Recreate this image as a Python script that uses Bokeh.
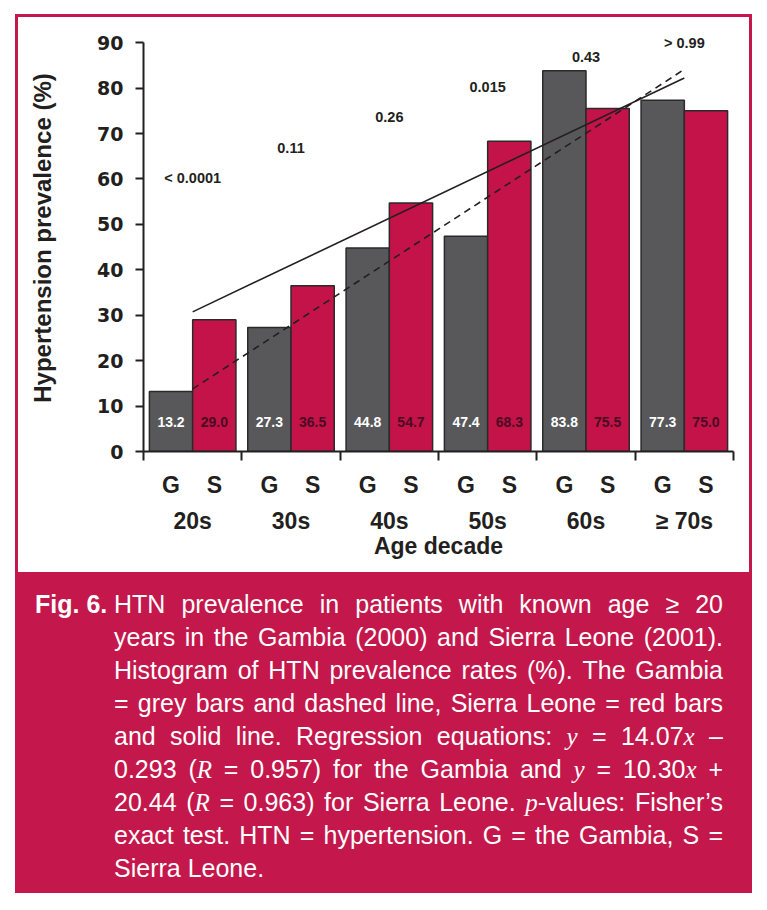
from bokeh.plotting import figure
from bokeh.models import FixedTicker, LinearAxis, Range1d, Div
from bokeh.layouts import column, row
from bokeh.core.properties import value
from bokeh.embed import file_html
from bokeh.resources import INLINE

# ---------------- data ----------------
age_groups = ["20s", "30s", "40s", "50s", "60s", "≥ 70s"]
countries = ["G", "S"]
gambia = [13.2, 27.3, 44.8, 47.4, 83.8, 77.3]
sierra = [29.0, 36.5, 54.7, 68.3, 75.5, 75.0]
p_labels = ["< 0.0001", "0.11", "0.26", "0.015", "0.43", "> 0.99"]
p_label_heights = [60.1, 66.8, 73.6, 80.2, 86.8, 90.0]
gambia_fit = [14.07, -0.293]   # slope, intercept
sierra_fit = [10.30, 20.44]
decade_index = [1, 2, 3, 4, 5, 6]
y_ticks = [0, 10, 20, 30, 40, 50, 60, 70, 80, 90]

# ---------------- style ----------------
GREY = "#58585b"
RED = "#c41349"
FRAME_RED = "#c4174b"
INK = "#231f20"
S_TEXT = "#4a0c22"
SANS = "Liberation Sans"

n = len(age_groups)
centers = [i + 0.5 for i in range(n)]
bw = 0.44
g_x = [c - bw / 2 for c in centers]
s_x = [c + bw / 2 for c in centers]

p = figure(width=731, height=555, x_range=Range1d(0, n), y_range=Range1d(0, 94),
           x_axis_type=None, y_axis_type=None, output_backend="svg",
           toolbar_location=None, min_border_left=125, min_border_right=16,
           min_border_top=7, min_border_bottom=121, outline_line_color=None,
           background_fill_color="white", border_fill_color="white")

p.vbar(x=g_x, top=gambia, width=bw, fill_color=GREY, line_color="#2a2a2a", line_width=1.5)
p.vbar(x=s_x, top=sierra, width=bw, fill_color=RED, line_color="#2a2a2a", line_width=1.5)

label_y = [6.6] * n
p.text(x=g_x, y=label_y, text=[f"{v:.1f}" for v in gambia], text_align="center",
       text_baseline="middle", text_color="white", text_font=value(SANS),
       text_font_style="bold", text_font_size="14px")
p.text(x=s_x, y=label_y, text=[f"{v:.1f}" for v in sierra], text_align="center",
       text_baseline="middle", text_color=S_TEXT, text_font=value(SANS),
       text_font_style="bold", text_font_size="14px")

# regression lines (from the caption equations), drawn between group centres
fit_idx = [decade_index[0], decade_index[-1]]
fit_x = [k - 0.5 for k in fit_idx]
p.line(fit_x, [sierra_fit[0] * k + sierra_fit[1] for k in fit_idx],
       line_color=INK, line_width=1.6)
p.line(fit_x, [gambia_fit[0] * k + gambia_fit[1] for k in fit_idx],
       line_color=INK, line_width=1.6, line_dash="7 5")

# p-values
p.text(x=centers, y=p_label_heights, text=p_labels, text_align="center",
       text_baseline="middle", text_color=INK, text_font=value(SANS),
       text_font_style="bold", text_font_size="14.5px")

# y axis
yax = LinearAxis(ticker=FixedTicker(ticks=y_ticks), bounds=(0, 90),
                 axis_label="Hypertension prevalence (%)")
yax.axis_line_width = 2
yax.axis_line_color = INK
yax.major_tick_out = 8
yax.major_tick_in = 0
yax.major_tick_line_width = 2
yax.major_tick_line_color = INK
yax.minor_tick_out = 0
yax.minor_tick_in = 0
yax.major_label_text_font = "DejaVu Sans"
yax.major_label_text_font_style = "bold"
yax.major_label_text_font_size = "19px"
yax.major_label_text_color = INK
yax.major_label_standoff = 12
yax.axis_label_text_font = SANS
yax.axis_label_text_font_style = "bold"
yax.axis_label_text_font_size = "24px"
yax.axis_label_text_color = INK
yax.axis_label_standoff = 38
p.add_layout(yax, "left")

# x axis with ticks at group boundaries
bounds_ticks = list(range(n + 1))
xax = LinearAxis(ticker=FixedTicker(ticks=bounds_ticks),
                 major_label_overrides={t: "" for t in bounds_ticks})
xax.axis_line_width = 2
xax.axis_line_color = INK
xax.major_tick_out = 9
xax.major_tick_in = 0
xax.major_tick_line_width = 2
xax.major_tick_line_color = INK
xax.minor_tick_out = 0
xax.minor_tick_in = 0
xax.major_label_text_font_size = "1px"
xax.major_label_standoff = 0
p.add_layout(xax, "below")


def label_axis(ticks, labels, standoff, title=None):
    ax = LinearAxis(ticker=FixedTicker(ticks=ticks),
                    major_label_overrides=dict(zip(ticks, labels)))
    ax.axis_line_color = None
    ax.major_tick_line_color = None
    ax.major_tick_out = 0
    ax.major_tick_in = 0
    ax.minor_tick_out = 0
    ax.minor_tick_in = 0
    ax.major_label_text_font = SANS
    ax.major_label_text_font_style = "bold"
    ax.major_label_text_font_size = "23px"
    ax.major_label_text_color = INK
    ax.major_label_standoff = standoff
    if title:
        ax.axis_label = title
        ax.axis_label_text_font = SANS
        ax.axis_label_text_font_style = "bold"
        ax.axis_label_text_font_size = "23px"
        ax.axis_label_text_color = INK
        ax.axis_label_standoff = -4
    return ax


# G / S row
gs_ticks = g_x + s_x
gs_labels = [countries[0]] * n + [countries[1]] * n
p.add_layout(label_axis(gs_ticks, gs_labels, 11), "below")
# decade row + title
p.add_layout(label_axis(centers, age_groups, 7, "Age decade"), "below")

# ---------------- caption ----------------
def it(s):
    return f'<i style="font-family:\'Liberation Serif\',serif">{s}</i>'

caption_lines = [
    ["HTN", "prevalence", "in", "patients", "with", "known", "age", "≥", "20"],
    ["years", "in", "the", "Gambia", "(2000)", "and", "Sierra", "Leone", "(2001)."],
    ["Histogram", "of", "HTN", "prevalence", "rates", "(%).", "The", "Gambia"],
    ["=", "grey", "bars", "and", "dashed", "line,", "Sierra", "Leone", "=", "red", "bars"],
    ["and", "solid", "line.", "Regression", "equations:", it("y"), "=", "14.07" + it("x"), "–"],
    ["0.293", "(" + it("R"), "=", "0.957)", "for", "the", "Gambia", "and", it("y"), "=",
     "10.30" + it("x"), "+"],
    ["20.44", "(" + it("R"), "=", "0.963)", "for", "Sierra", "Leone.", it("p") + "-values:",
     "Fisher’s"],
    ["exact", "test.", "HTN", "=", "hypertension.", "G", "=", "the", "Gambia,", "S", "="],
]
last_line = "Sierra Leone."

rows = "".join(
    '<div style="display:flex;justify-content:space-between;height:33px;line-height:33px;white-space:nowrap;">'
    + "".join(f"<span>{w}</span>" for w in words) + "</div>"
    for words in caption_lines)
rows += f'<div style="height:33px;line-height:33px;white-space:nowrap;">{last_line}</div>'

html = ('<div style="display:flex;margin:0;padding:16px 0 0 20px;'
        'font-family:\'Liberation Sans\',Arial,sans-serif;font-size:25px;color:#ffffff;">'
        '<div style="flex:none;width:79px;font-weight:bold;line-height:33px;white-space:nowrap;">Fig. 6.</div>'
        f'<div style="flex:none;width:609px;">{rows}</div></div>')

bg = {"background-color": FRAME_RED}
white = {"background-color": "#ffffff"}
cap = Div(text=html, width=737, height=321, styles=bg, margin=0)
top_bar = Div(text="", width=737, height=3, styles=bg, margin=0)
left_bar = Div(text="", width=3, height=555, styles=bg, margin=0)
right_bar = Div(text="", width=3, height=555, styles=bg, margin=0)
p.margin = 0

framed = column(top_bar, row(left_bar, p, right_bar, spacing=0, margin=0), cap,
                spacing=0, margin=0)
top_gap = Div(text="", width=752, height=14, styles=white, margin=0)
left_gap = Div(text="", width=15, height=879, styles=white, margin=0)
layout = column(top_gap, row(left_gap, framed, spacing=0, margin=0), spacing=0, margin=0)

open("out.html", "w").write(file_html(layout, INLINE))
